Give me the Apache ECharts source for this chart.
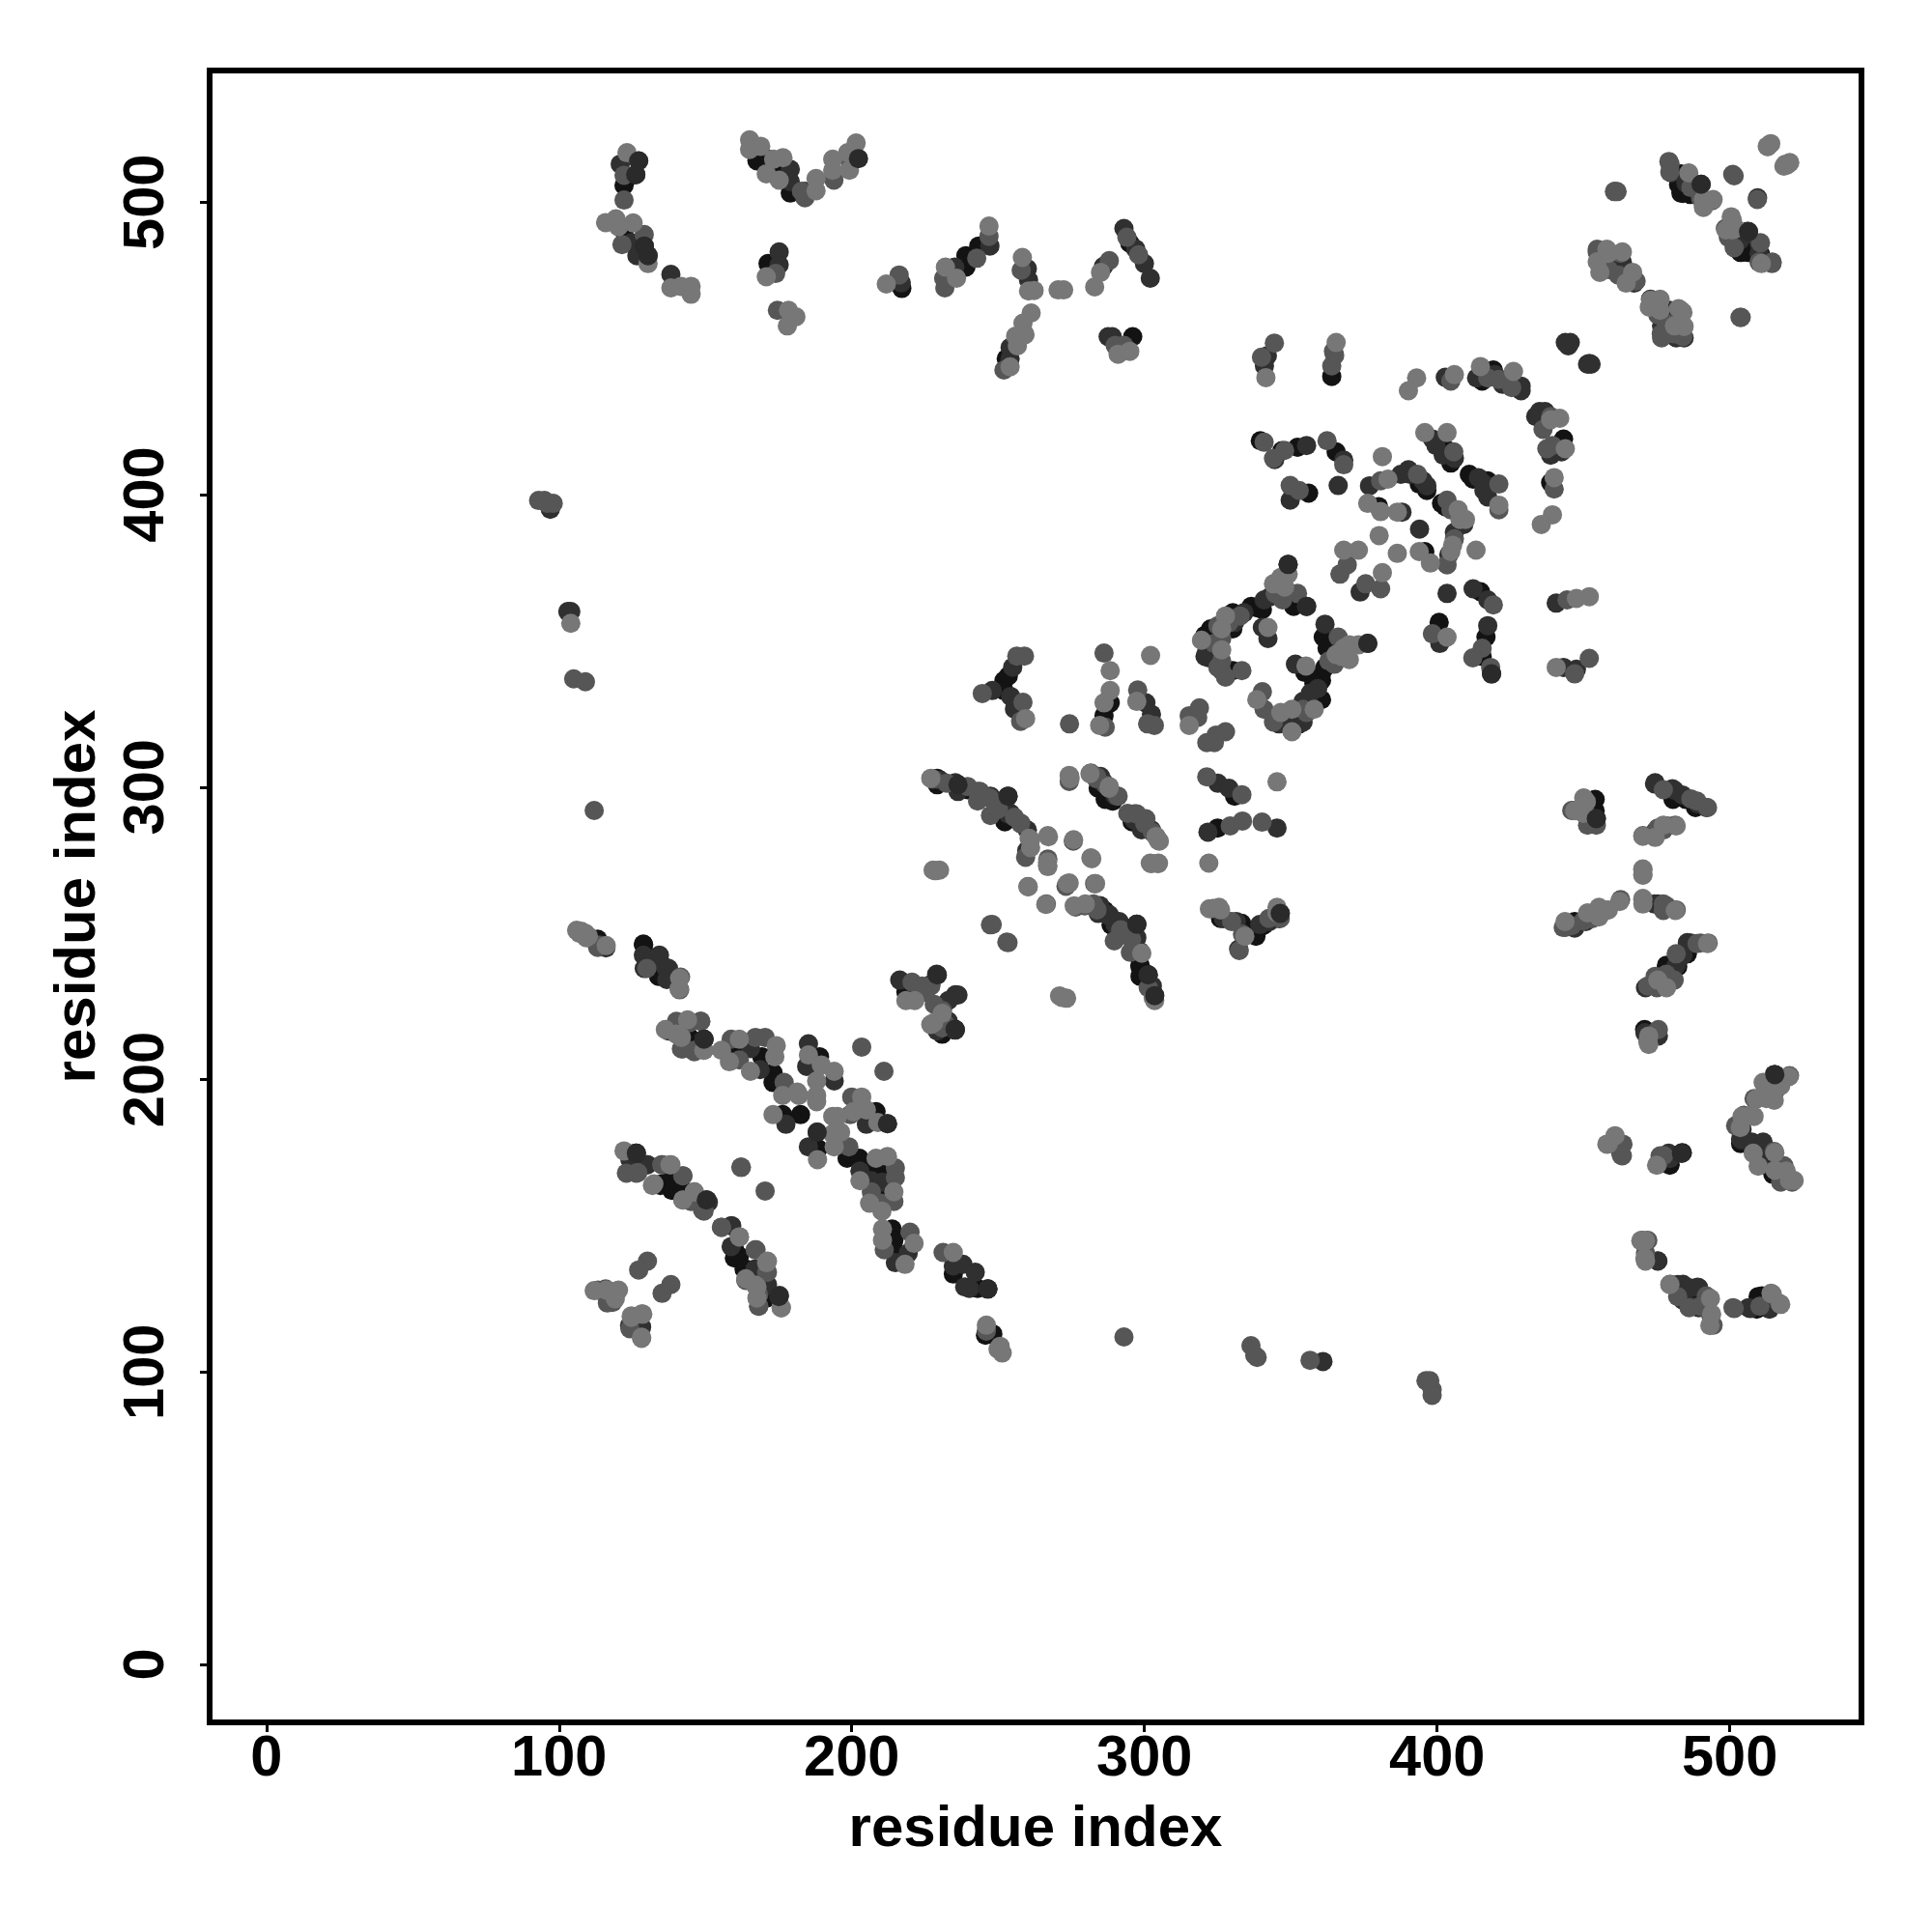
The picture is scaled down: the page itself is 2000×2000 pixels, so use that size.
<!DOCTYPE html>
<html><head><meta charset="utf-8">
<script src="https://cdn.jsdelivr.net/npm/echarts@6/dist/echarts.min.js"></script>
<style>html,body{margin:0;padding:0;background:#fff}#c{width:2000px;height:2000px}</style></head>
<body><div id="c"></div>
<script>
const tickValues=[0,100,200,300,400,500];
const axisTitle="residue index";
const weakContacts=[[107,250],[109,250],[110,249],[104,356],[123.2,516.9],[127.2,514.1],[115.9,493],[119.4,494.3],[120.3,491.6],[125.3,492.9],[130.4,479],[138.2,470.7],[141.7,471.2],[145.1,471.2],[145.1,468.5],[165.1,521.3],[165.1,518],[168.9,519.1],[170.8,509.7],[173.3,514.7],[176.5,515.2],[175.2,507.5],[187.8,508.1],[187.8,503.9],[193.5,514.7],[193.5,510.9],[199.2,510.9],[198.6,516.9],[201.5,520.2],[170.8,474.5],[178.4,463],[180.9,460.8],[178,457.7],[211.8,472],[232,477.8],[235.8,474],[246.9,491.8],[258.3,481.1],[260.4,469.6],[262.3,469.8],[270.5,470],[272.4,470],[261.3,462.1],[258.5,458.6],[259.2,454.7],[256,454.2],[256.6,450.9],[254.1,443.7],[283,471],[285,476],[291,448],[295,449],[513,519],[514,520],[519,513],[520.5,513.5],[491,499],[500.5,495],[502,491],[454.7,479.6],[455.6,476],[458.5,482.5],[473,466.5],[476,466.5],[482.5,463.6],[484,462.3],[341.5,440],[365.5,452],[393,439.9],[390.2,435.5],[405.9,441],[414.8,443.8],[426.1,442.1],[441.9,426.1],[438.8,425.6],[443.8,415.7],[440,405.8],[439.4,393.1],[435.6,389.8],[381.3,413],[383.2,405.3],[376.3,397],[380.7,394.2],[386.4,394],[395.8,421.2],[403.4,421.2],[421.1,396.4],[407.8,391.5],[413.3,381],[405.3,382.7],[393.9,380.5],[397.7,376.6],[380.2,386],[386.4,379.9],[373.1,381],[368.1,381],[381.3,373.3],[403.4,351.3],[447.6,364.5],[452,365.1],[440.7,340.9],[349.1,372.8],[344.1,369.5],[327.7,358.5],[326.4,354.1],[319.5,350.2],[326.4,346.9],[342.2,354.6],[373.1,348.6],[370,348.6],[367.4,344.7],[370,343.6],[355.2,341.4],[358,326.6],[350.4,326.6],[338.4,329.9],[346.6,325.5],[350.4,318.9],[288.3,339.8],[302.1,345],[288.3,333],[286.2,328.8],[284.7,321.1],[297.4,329.3],[315.3,321.1],[274.6,302.9],[287.9,299.6],[345.3,301.8],[450.1,296.3],[447,291.9],[450,291],[451,295],[481.7,286.7],[470.3,272],[470.3,270],[456.4,258],[458.5,258],[470.3,261.5],[475.4,234],[472,213],[503.6,183.6],[507,187.8],[509,193.3],[512,198],[515.4,175],[515.4,169],[520.4,165.5],[522,165.5],[458.5,178],[471,139],[514.5,126.7],[250,107.8],[251.4,106.5],[227,218.8],[136.3,217.1],[140.1,215.5],[149.5,210],[155.5,210],[161.6,213.8],[158.2,206.1],[165.4,202.8],[174.2,211.6],[173.7,207.8],[176.4,194.6],[181.4,195.7],[181.9,194.6],[188,194.6],[188,192.4],[173.1,188],[185.2,208.4],[189.6,205],[194,202.8],[188,199.5],[203.4,194],[200.6,189],[205,189.6],[208.9,185.3],[195.1,187.4],[193.5,187.4],[196.2,182],[193.5,181.4],[194,177],[188.3,172.6],[208.3,173.1],[212.2,173.7],[202.8,165.4],[214.4,161.6],[206.1,157.7],[210.3,155],[210.5,148.9],[210.5,145.1],[221.3,144],[218.2,136.8],[234.7,140.9],[246,116],[250.7,108.8],[137.9,170.9],[131.9,163.8],[146.2,161.6],[142.3,158.8],[163.8,131.9],[170.9,137.4],[167.6,129.1],[167.6,125.3],[175.9,122],[128.6,119.8],[128.2,111.5],[124.7,119.2],[116.2,128],[119.6,127.6],[141,231],[218.5,227],[221.5,227],[228,219.4],[227.8,271.6],[230,271.6],[260.6,282.5],[267,283.4],[267,272.8],[275.8,282],[281.7,275.8],[274.5,303.6],[304.8,281.7],[302,274],[304.8,274],[273.7,267],[276,259.4],[303,228],[271,228.6],[273.4,227.8],[259.4,323.4],[322,274],[326,258],[345.3,257]];
const weakDetail=[[227,303],[261.1,282],[261.1,279.3],[267.2,283],[266.9,274.4],[282,275.5],[260.3,265.9],[266.3,259.9],[274.3,267.2],[283.3,267],[279.8,260],[299.1,243.2],[303.5,227],[274.3,304],[281.4,304.6],[288,300.2],[304,283.1],[305.1,281.5],[302.4,273.8],[304.6,273.8],[228.6,271.4],[271.8,228.1],[230.9,222.6],[322.2,258.4],[325.5,258.9],[334.3,249],[345.3,258.9],[512.8,519.1],[519.6,512.7],[518.5,512.3],[486,510],[491,500.9],[494.3,500.9],[491,498.2],[500.9,493.8],[498.7,490.5],[500.9,490.5],[510.8,479],[458,483.9],[463.3,483],[466.8,476],[464.6,472.3],[476.2,466.8],[472.5,464.1],[476.2,463],[483.3,463],[481.1,457.7],[484.4,457.5],[470.3,283.2],[474.5,282.8],[477.3,287],[470.3,271.8],[470.3,269.9],[470.3,261.9],[470.3,260],[481.4,257.8],[462.4,260.9],[458,257.9],[455.3,258.9],[455.3,255.6],[451.4,257],[443.7,254],[492.4,246.5],[478.4,231.4],[472.3,214.9],[472.3,212],[520.2,201],[511.4,199],[517.4,197.9],[512.5,193.5],[515.2,192.9],[504.2,187.4],[508.3,187.4],[508,174.8],[509.7,170.4],[519.3,168.7],[460.8,180.8],[458,177.9],[475,170.7],[469.6,144.9],[471.2,144.9],[471.2,137.9],[479.5,129.9],[493.4,125.1],[493.8,119.8],[493.2,115.9],[514.1,126.9],[517.4,123.1],[107.6,250.7],[106,251],[109.3,248.5],[116.1,245.8],[141.2,234.7],[143.9,220.4],[141.8,214.4],[149.5,210],[122.2,175.6],[138.2,170.9],[132.4,164.3],[146.2,161.6],[161.6,146.2],[171.2,137.9],[167,129.7],[175.9,122],[112,127.8],[120.3,128],[119.2,125],[124.7,118.7],[128.2,119.8],[128.2,111.9],[368.1,347.5],[365.5,345.3],[346.6,371.7],[347.9,368.4],[407.2,394.8],[409.7,391.5],[404.7,380.5]];
const mediumContacts=[[93,398],[95,398],[96,397],[98,397],[105,337],[109,336],[112,292],[113,246],[122.2,509.2],[122.2,500.7],[121.5,485.5],[129.1,488.9],[174,475.6],[174.6,463],[216.2,475.1],[231.8,470.7],[231.4,474],[242.7,480.8],[246.9,488.3],[257.9,476.7],[252,442.6],[182.8,503.7],[184,501.5],[193.9,507.5],[198.6,515.2],[288,480],[294,488],[298,482],[290,451],[293,451],[501,509.5],[479.6,513],[486.7,505],[490,501.5],[494,500.5],[498.5,491],[499.5,488],[510,479.5],[514.5,479.5],[503.5,460.6],[460.6,503.6],[461.5,503.6],[454.7,483],[458.5,477],[462.7,482.5],[465.7,474],[468,473],[475.4,461.5],[478.3,458.5],[476.6,455],[481,455],[484,454],[340,447],[344.4,451.8],[364,444],[365,447.6],[364.6,449],[404.7,438.8],[417.3,439.9],[425.5,436.6],[436.2,422.3],[439.4,416.8],[440,401.9],[340.9,417.9],[344.1,412.4],[347.9,415.1],[362.4,418.4],[368.1,410.2],[349.8,403.1],[352.9,401.4],[380.7,404.7],[393.3,406.9],[405.7,414.6],[421.1,403.6],[421.1,394.8],[404.7,394.8],[403.4,376],[369.3,376],[366.8,372.8],[375.6,369.5],[380.7,367.8],[419.2,362.3],[398.4,352.4],[415.4,347.5],[412.2,344.2],[418.3,340.9],[444.4,364],[447,338.7],[452,344],[352.3,366.2],[347.2,364],[326.4,350.8],[326.4,343.1],[326.4,339.8],[333.3,339.8],[366.2,351.3],[364.9,342],[354.2,326.6],[340.3,332.6],[340.9,326.6],[286.2,345.8],[286.6,320.5],[274.4,321.6],[297.7,333.2],[303.4,321.1],[301.1,321.6],[315.3,324.4],[318.8,327.1],[318.2,323.8],[327.7,318.9],[324.5,317.8],[321.3,315.2],[323.9,315.2],[281.6,304.6],[283.5,302.9],[291,296.9],[321.3,303.5],[333.3,297.4],[300.5,289.2],[446,292],[474,283.8],[475.4,286],[478.7,286.7],[470.3,283.4],[486.7,296],[443.8,252],[446,252.6],[450,254.3],[453,255],[462.7,261.5],[478.3,259.4],[481.7,258],[472,232],[478.3,236],[481,234],[490,246.7],[492.6,246.7],[504.8,187.8],[513.3,194],[520.4,201.3],[515.4,196],[518.5,170.5],[460.6,179.4],[462.7,175],[463,174],[475.4,171],[477.4,174],[470,145],[472,145],[479.6,130],[492,126],[490,122.5],[493.5,119.5],[494.3,116],[501.5,121.7],[510.3,122.5],[517,123.4],[396.2,97],[397.5,97],[398.3,94],[398.3,92],[356.6,104],[336.4,109],[337.7,105.7],[338.5,105],[293,112],[246,114],[232,218.8],[141.2,217.7],[144.5,219.4],[148.4,219.9],[141.8,210.5],[146.2,209.5],[158.8,213.8],[161.6,206.7],[167.1,214.4],[170.4,214.4],[176.9,199],[203.4,211.1],[211,202.8],[200,194],[199.5,188],[199,177],[214.9,169.8],[214.9,166.5],[214.4,158.3],[206.7,161.6],[210,157.7],[219.9,147.8],[211.1,141.8],[231.2,140.9],[162.1,170],[170.4,161.9],[126.9,168.2],[135.2,170.9],[142.3,167.1],[149.5,155],[149,155.4],[155.5,149.5],[161.6,146.2],[167,141.8],[170.9,134.1],[168.2,122.5],[130.2,137.9],[127.2,134.9],[138.2,129.9],[135.2,126.9],[124.2,114.8],[113.3,128],[116.6,124.6],[118.3,123.8],[130,238],[141.5,235],[220.6,233.3],[224,232],[227,232],[228.2,225.7],[231,223.6],[227.8,302.7],[239.6,300.2],[243.8,298.5],[247,296.4],[250,293],[257.7,287.6],[267,275.4],[281.7,304.8],[287,300.6],[294.3,291],[302.7,284.6],[248,253],[253,247],[260.2,266],[266.5,260],[283,267],[279.6,259.4],[283.8,258],[292,251],[295.6,248],[244.6,332],[256.4,344.8],[259,344.8],[257.7,322.5],[258.5,329],[329.3,286.7],[333.5,288.4],[340.2,288],[323.4,258.5],[333.5,249.7]];
const mediumDetail=[[232.5,301.3],[243,298.5],[243,295.2],[247.4,290.3],[250.1,292.5],[255.6,289.7],[259.4,276],[275.7,281.5],[266.9,273.2],[273.2,266.1],[276.5,259],[282.6,260],[291.9,251.2],[289.7,247.4],[295.2,243.5],[301.3,231.4],[274.3,301.9],[283.7,303.5],[290.8,296.9],[297.4,290.8],[300.1,287.5],[247.4,252.9],[253.4,246.8],[224.3,229.8],[230.9,217.7],[329.8,254],[332.4,244.1],[342.5,255.1],[346.4,255.1],[501.5,509],[509.4,500.9],[460.8,503.7],[479.2,513.9],[479.5,510.3],[501.5,484.4],[510.5,486.1],[514.4,479],[503.9,460.6],[454.7,483.9],[461.9,475.1],[476.7,453.6],[446.5,292],[450.8,290.9],[451.4,287],[454.4,287],[477.3,299.1],[488.8,295.2],[492.4,293],[477.3,285.3],[481.4,287],[477.3,260],[477.3,257.8],[443.1,252],[488.8,246.5],[481.7,243],[474.5,235.3],[475.1,231.4],[475.6,217.1],[514.7,195.7],[508.3,193.5],[502,184.2],[515.2,175.4],[517.4,164.9],[521.3,164.9],[463.5,177.9],[463.3,173.9],[476.2,173.9],[471.2,140.7],[482.2,125.8],[486.1,122],[501.1,122],[113.2,245.2],[141.2,230.7],[136.8,217.1],[140.1,219.9],[148.4,219.9],[142.3,210.5],[146.2,210],[123,168],[126.4,168],[135.1,170.9],[142.3,167.1],[142.3,158.8],[145.1,158.3],[149.5,155.5],[155.5,149.5],[167.3,141.8],[163.8,131.3],[171.2,134.1],[168.2,126.4],[168.2,122.5],[162.3,170],[115.9,128.4],[116.5,123.6],[332.7,358.5],[328.9,356.3],[325.1,355.2],[323.9,349.1],[325.1,340.9],[327.7,337.6],[355.4,325.5],[344.1,322.2],[363,343.1],[344.7,366.2],[403.4,398.1],[405.9,384.9],[437.5,415.7],[438.8,426.7],[421.1,439.4]];
const strongContacts=[[97,395],[103,360],[104,360],[114,246],[116,245],[120.9,513],[124.7,486.1],[126.6,481.7],[130.4,481.7],[138.2,475.3],[175.2,483],[175.2,478.6],[216.9,472.4],[235.2,477.8],[247.2,485],[260,477.3],[260.4,473.4],[254.1,450.3],[254.1,446.5],[179,511.2],[179,507],[184,503.7],[286,478],[293,491],[297,484],[300,479],[302,474],[287.6,454],[289,454],[509.5,501.5],[480,510],[485,506.5],[490,506],[503.5,487],[506,490],[510,486],[510,482.5],[443.8,452],[445.5,452],[451.4,444.6],[452.6,444.6],[464,475.4],[484,457],[342,447.5],[341,444],[402.8,440.1],[422.4,437.7],[428.7,435.5],[435,428.4],[438.8,413.5],[444.8,450.9],[452,444.8],[344.5,412],[355.4,416.8],[368.1,411.8],[349.8,398.1],[366.2,403.1],[376.9,403],[387.6,406.9],[390.2,408.5],[396.5,403],[388,394],[416,403.6],[417.3,399.2],[409.1,389.8],[405.9,387.1],[394,388.2],[404,379.4],[373.7,366.7],[403.4,366.2],[412.3,367.8],[417.3,364],[400.9,349.1],[417.3,355.2],[418.6,338.7],[440.7,362.9],[443.2,340.9],[447.6,340.3],[349.1,376.1],[355.4,361.8],[340.9,364],[334,359.6],[330.8,356.3],[321.3,346.4],[322,344.2],[340.3,354.6],[342.2,350.8],[361.7,355.7],[376.3,349.1],[351.6,342],[359.2,333.7],[354.2,329.3],[354.2,322.2],[346,321.6],[300.5,328.8],[302.4,324.9],[286,301.3],[325.1,301.3],[328.9,299.6],[296.7,290.8],[454.3,287.5],[474.5,301.5],[480.4,299.4],[483.8,297.3],[489,294.3],[492,293],[475.4,260],[481.7,239],[484,242.5],[486.7,246.7],[471,216],[474.5,216],[504,179.4],[512,175],[517.5,166.7],[479.6,173],[475.4,138],[484,130],[489,129],[484,124.6],[486.7,122.5],[507,121.7],[361,103.6],[229.2,216.6],[235.3,217.2],[137.4,216.6],[149.5,213.8],[165.4,210.6],[168.7,203.4],[177.5,184.7],[185.2,212.2],[184.6,204.5],[194,199.5],[212.2,184.9],[205,184.7],[185.2,177],[202.8,168.7],[206.7,165.4],[210.5,164.9],[219.3,140.7],[214.9,137.4],[234.7,136.3],[238,136.8],[238.6,129.1],[242.2,134.1],[240.2,128.6],[126.3,174.8],[124.2,172.6],[130.2,170.9],[150.6,158.8],[151,158],[158.8,150],[158.8,142.9],[170.9,129.7],[175.1,125.8],[167,135.2],[128,115.4],[128.8,242.5],[132.2,241.3],[134.3,242.5],[136.4,238.3],[139.8,234],[216.4,234],[229,236],[235.4,229],[233,220],[235.4,217],[230.3,302.3],[235.4,301.5],[253,296.4],[254.3,291],[259.8,278.3],[285,303.6],[290,297],[296.4,288.8],[300.6,286.7],[288,256.4],[290,253],[298.5,243.8],[302.7,232],[248,333],[255,341],[254.3,331],[255.6,326.7],[321.7,284.6],[345.3,286],[327,255],[331.4,254],[332.2,244.6],[339.4,253],[342.7,254],[346,255]];
const strongDetail=[[236.3,300.8],[236.3,298.5],[247.4,296.9],[253.4,296.9],[253.4,290.8],[257.8,287.5],[260,285.3],[284.8,259.5],[284.2,256.8],[287.5,256.2],[291.4,254],[297.4,253.1],[297.4,248.5],[301.3,235.8],[303.5,228.7],[285.9,301.9],[299,285.4],[302.4,285.4],[229.2,235.8],[227,232.5],[236.3,228.9],[233,227],[235.3,216.9],[346.4,256.8],[490.2,506.1],[506.4,489.9],[472.9,466.8],[458,477.3],[463.3,479.5],[467.3,472.3],[479.5,463],[476.7,457.7],[481.7,453.6],[484.4,453.6],[454.4,289.2],[474.3,301.1],[481.1,298.9],[474.5,284.8],[474.3,260],[450.8,254],[447,251.8],[485.5,246.8],[478.4,234.7],[471.2,231.4],[475.6,214.9],[515.2,201.7],[504.2,183],[503.7,179.7],[507.5,178.6],[511.4,178.6],[513.6,170.9],[479.1,174.8],[483.5,174.8],[475.4,137.9],[482.2,129.9],[486.1,128.8],[489.4,128.8],[489.4,122],[506.4,122],[513.6,121.5],[129.1,238],[134,241.9],[137.4,238],[136.8,234.2],[137.4,216.6],[149.5,213.8],[126.4,174.8],[130,170.9],[150.3,158.8],[159,150],[167,135.2],[171.2,129.9],[175.3,126.2],[124.1,115.9],[128.2,115.4],[342.8,365],[320.7,344.7],[356.7,332.1],[347.9,322.7],[398.4,419],[399.6,416.8],[402.1,413.5],[405.9,412.4],[414.1,405.8],[416,401.4],[390.8,406.9],[395.2,404.7],[436.9,428.4],[433.7,426.7],[442.5,414.6],[419.8,441],[413.5,439.9],[428.7,437.1]];
const strongestContacts=[[126.2,509.4],[122.8,507.5],[122.2,505.7],[122.2,490],[129.1,485],[171.4,479],[167.6,514.1],[171.4,514.7],[174.6,510.9],[179,503.1],[217.1,470.5],[239,477.8],[239,481.7],[243.4,485],[252.8,446.5],[295,486],[296,454],[482.5,509],[482.5,506],[484,503],[503.5,483],[507,483],[461.5,478],[364,440.4],[415.4,438.8],[419.2,442.6],[443.2,419],[438.8,404.1],[339.6,418.4],[352.3,416.2],[365.5,414.6],[356.1,400.5],[393.9,403.6],[380,395.9],[400.9,417.9],[402.8,415.7],[404.7,410.8],[412.3,405.3],[402.8,395.9],[395.8,380.5],[414.8,366.8],[400.7,356.3],[416.7,351.3],[415.4,344.7],[351,361.8],[338.4,361.3],[330.2,359.6],[322.6,354.1],[330.2,354.1],[322,349.7],[330.2,339.8],[361.1,351.3],[361.7,340.9],[354.8,339.2],[360.5,336.5],[360.5,329.9],[350.4,322.2],[288.3,328.8],[286.2,324.4],[286.6,295.8],[289.1,295.2],[330.8,296.9],[454,295.8],[454,291.9],[478.3,238],[515.4,201.7],[510,178],[479.6,171],[483.8,175],[511,126],[513.3,121.7],[248,112.8],[248.2,113],[245.7,112.6],[144.5,214.4],[161.6,210],[169.3,207.8],[173.1,202.3],[173.1,199],[176.4,188],[182.5,188],[189,207.8],[208.3,189],[188.2,182],[188.5,176.4],[198.4,173.1],[202.6,173.1],[210.5,169.3],[207.2,169.3],[210,161.6],[213.8,148.9],[214.4,145.1],[214.4,141.8],[234.7,133.5],[243,128.6],[246.5,128.4],[134.6,163.8],[138.5,166.5],[138.5,162.1],[142.9,161.6],[161.6,139.6],[163.8,135.2],[170.9,125.3],[128.8,246.3],[136.4,235],[218.5,230],[231,217],[297.3,253],[300.6,236.2],[252,336.4],[252,333],[253.5,338],[325,286],[337.7,250],[347,415]];
const strongestDetail=[[229.2,303],[229.2,300.8],[239.7,299.1],[252.3,288.1],[288.6,252.9],[298.5,238.6],[284.2,299.6],[287.5,297.4],[289.2,295.2],[295.8,288.1],[230.9,215.5],[326,255.1],[333.2,253.4],[338.1,249],[339.2,251.8],[340.9,252.9],[298.5,239.1],[298.5,235.3],[286.4,257.8],[483.3,509.7],[483.3,503.1],[486.6,505.9],[486.6,502.6],[503.7,487],[503.7,482.8],[506.4,482.8],[510.5,482.2],[480.6,295.8],[484.9,295.8],[488.3,293],[447,254],[485.5,243],[482.2,238.6],[478.4,239.1],[470.9,217.1],[503.7,178.1],[510.3,174.2],[514.7,167.6],[479.5,170.7],[485.5,126.4],[490.4,124.7],[509.7,125.8],[509.2,121.5],[113.2,248],[128.9,246.1],[129.7,242.4],[134,235.3],[145.1,213.8],[135.1,164.3],[138.8,166.5],[139,162.7],[142.3,161],[159.9,142.3],[159.9,139],[163.2,135.2],[170.9,125.5],[340.3,360.7],[336.5,361.8],[320.7,351.9],[360.5,338.7],[357.9,335.4],[358,328.8],[352.9,321.6],[362.4,347.5],[411,406.9],[417.3,404.7],[401.5,397],[396.5,401.4]];
const topContacts=[[202.3,514.9],[127.2,514.1],[126.2,509.4],[376.3,349.1],[355.4,361.8],[349.1,376.1],[418.6,338.7],[515.4,201.7],[246.5,128.4],[149.5,213.8],[235.3,217.2],[188.2,182],[212.2,184.9],[175.1,125.8],[129.1,485],[130.4,481.7],[297.4,253.1],[303.5,228.7],[301.3,235.8],[229.2,235.8],[253.4,296.9],[236.3,300.8],[346.4,256.8],[490.2,506.1],[506.4,489.9],[454.4,289.2],[126.4,174.8],[150.3,158.8],[483.5,174.8]];
const greys={weak:"#777777",medium:"#565656",strong:"#303030",strongest:"#131313",top:"#2a2a2a"};
function layer(data,color){return{type:"scatter",data,symbol:"circle",symbolSize:20,itemStyle:{color,opacity:1},silent:true,clip:false};}
const chart=echarts.init(document.getElementById("c"),null,{renderer:"canvas"});
const tickFont={fontFamily:"Liberation Sans",fontWeight:"bold",fontSize:59.5,color:"#000"};
const nameFont={fontFamily:"Liberation Sans",fontWeight:"bold",fontSize:60,color:"#000"};
function axis(min,extra){return Object.assign({type:"value",min,max:545,
  name:axisTitle,nameLocation:"middle",nameTextStyle:nameFont,
  axisLine:{show:false,onZero:false},splitLine:{show:false},
  axisTick:{show:true,length:10,lineStyle:{color:"#000",width:3},customValues:tickValues},
},extra);}
chart.setOption({animation:false,backgroundColor:"#fff",
  grid:{left:217,top:73,width:1710,height:1710,show:true,borderColor:"#000",borderWidth:6,backgroundColor:"transparent",containLabel:false},
  xAxis:axis(-19.4,{nameGap:81,axisLabel:Object.assign({},tickFont,{margin:9,customValues:tickValues})}),
  yAxis:axis(-19.8,{nameGap:106,nameRotate:90,axisLabel:Object.assign({},tickFont,{margin:64,rotate:90,align:"center",verticalAlign:"middle",customValues:tickValues})}),
  series:[layer(strongestContacts.concat(strongestDetail),greys.strongest),layer(strongContacts.concat(strongDetail),greys.strong),layer(mediumContacts.concat(mediumDetail),greys.medium),layer(weakContacts.concat(weakDetail),greys.weak),layer(topContacts,greys.top)]
});
</script></body></html>
